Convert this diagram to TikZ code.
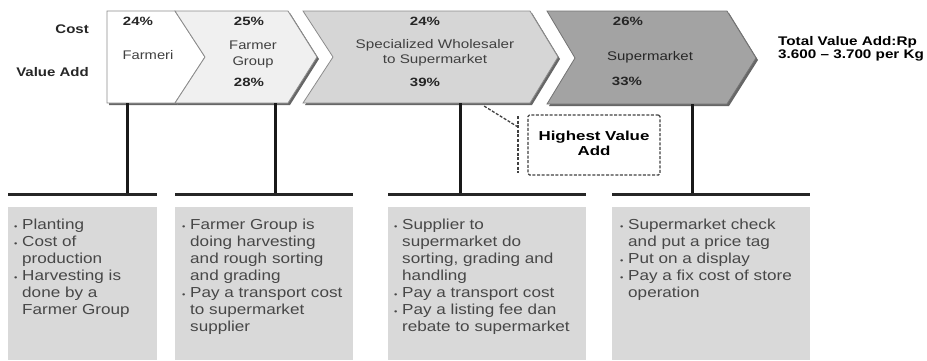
\documentclass[tikz,border=0pt]{standalone}
\usepackage{fontspec}
\usepackage{graphicx}
\setmainfont{Liberation Sans}
\newcommand{\hsc}[2][1.2]{\scalebox{#1}[1]{\begin{tabular}{@{}c@{}}#2\end{tabular}}}
\newcommand{\hsl}[2][1.2]{\scalebox{#1}[1]{\begin{tabular}{@{}l@{}}#2\end{tabular}}}
\begin{document}
\begin{tikzpicture}[x=1pt,y=-1pt,
  chev/.style={draw=black!45, line width=0.8pt, line join=miter},
  shad/.style={fill=black!60},
  pole/.style={line width=3pt, draw=black!90},
  hbar/.style={line width=3pt, draw=black!85},
  info/.style={fill=black!15},
  lbl/.style={font=\fontsize{12.5}{15}\selectfont, text=black!75, inner sep=0pt, align=center},
  pct/.style={font=\bfseries\fontsize{12}{14}\selectfont, text=black!85, inner sep=0pt},
  rowlbl/.style={font=\bfseries\fontsize{12.5}{14}\selectfont, text=black!85, inner sep=0pt, anchor=east},
  bul/.style={anchor=north west, align=left, font=\fontsize{14.5}{17}\selectfont, text=black!72, inner sep=0pt},
  callout/.style={draw=black!75, line width=1.3pt, dash pattern=on 3pt off 1.6pt}
]
\useasboundingbox (0,0) rectangle (927,360);

% shadows
\fill[shad] (109,13) -- (177,13) -- (207,59) -- (177,105) -- (109,105) -- cycle;
\fill[shad] (177,13) -- (290,13) -- (319,59) -- (290,105) -- (177,105) -- (207,59) -- cycle;
\fill[shad] (305,13) -- (532,13) -- (560,59) -- (532,105) -- (305,105) -- (335,59) -- cycle;
\fill[shad] (549,13) -- (729,13) -- (758,60) -- (729,106) -- (549,106) -- (577,60) -- cycle;

% chevrons
\filldraw[chev, fill=white] (107,11) -- (175,11) -- (205,57) -- (175,103) -- (107,103) -- cycle;
\filldraw[chev, fill=black!6] (175,11) -- (288,11) -- (317,57) -- (288,103) -- (175,103) -- (205,57) -- cycle;
\filldraw[chev, fill=black!16] (303,11) -- (530,11) -- (558,57) -- (530,103) -- (303,103) -- (333,57) -- cycle;
\filldraw[chev, draw=black!55, fill=black!36] (547,11) -- (727,11) -- (756,58) -- (727,104) -- (547,104) -- (575,58) -- cycle;

% row labels
\node[rowlbl] (cost) at (89,31) {\hsc[1.2]{Cost}};
\node[rowlbl] (va) at (89,74) {\hsc[1.2]{Value Add}};

% chevron texts
\node[pct] (c1) at (138,23) {\hsc[1.25]{24\%}};
\node[lbl] (n1) at (148,56) {\hsc[1.18]{Farmeri}};
\node[pct] (c2) at (249,23) {\hsc[1.25]{25\%}};
\node[lbl] (n2) at (253,54) {\hsc[1.18]{Farmer\\[1pt]Group}};
\node[pct] (v2) at (249,84) {\hsc[1.25]{28\%}};
\node[pct] (c3) at (425,23) {\hsc[1.25]{24\%}};
\node[lbl] (n3) at (435,53) {\hsc[1.22]{Specialized Wholesaler\\to Supermarket}};
\node[pct] (v3) at (425,84) {\hsc[1.25]{39\%}};
\node[pct] (c4) at (628,23) {\hsc[1.25]{26\%}};
\node[lbl, text=black!85] (n4) at (650,57) {\hsc[1.2]{Supermarket}};
\node[pct] (v4) at (627,83) {\hsc[1.25]{33\%}};

\node[font=\bfseries\fontsize{12.5}{13}\selectfont, anchor=west, inner sep=0pt] (tot) at (778,49) {\hsl[1.22]{Total Value Add:Rp\\3.600 -- 3.700 per Kg}};

% poles and bars
\coordinate (p1t) at (127,103); \coordinate (p1b) at (127,194);
\coordinate (p2t) at (275,103); \coordinate (p2b) at (275,194);
\coordinate (p3t) at (460,103); \coordinate (p3b) at (460,194);
\coordinate (p4t) at (692,104); \coordinate (p4b) at (692,194);
\coordinate (b1l) at (8,194);   \coordinate (b1r) at (157,194);
\coordinate (b2l) at (175,194); \coordinate (b2r) at (353,194);
\coordinate (b3l) at (388,194); \coordinate (b3r) at (586,194);
\coordinate (b4l) at (612,194); \coordinate (b4r) at (810,194);
\draw[pole] (p1t) -- (p1b);
\draw[pole] (p2t) -- (p2b);
\draw[pole] (p3t) -- (p3b);
\draw[pole] (p4t) -- (p4b);
\draw[hbar] (b1l) -- (b1r);
\draw[hbar] (b2l) -- (b2r);
\draw[hbar] (b3l) -- (b3r);
\draw[hbar] (b4l) -- (b4r);

% info boxes
\fill[info] (8,207) rectangle (157,360);
\fill[info] (175,207) rectangle (353,360);
\fill[info] (388,207) rectangle (586,360);
\fill[info] (612,207) rectangle (810,360);

\node[bul] (t1) at (14,217) {\scalebox{1.18}[1]{\begin{tabular}{@{}l@{\hspace{4pt}}l@{}}
\footnotesize\textbullet & Planting\\
\footnotesize\textbullet & Cost of\\
 & production\\
\footnotesize\textbullet & Harvesting is\\
 & done by a\\
 & Farmer Group
\end{tabular}}};
\node[bul] (t2) at (182,217) {\scalebox{1.18}[1]{\begin{tabular}{@{}l@{\hspace{4pt}}l@{}}
\footnotesize\textbullet & Farmer Group is\\
 & doing harvesting\\
 & and rough sorting\\
 & and grading\\
\footnotesize\textbullet & Pay a transport cost\\
 & to supermarket\\
 & supplier
\end{tabular}}};
\node[bul] (t3) at (394,217) {\scalebox{1.18}[1]{\begin{tabular}{@{}l@{\hspace{4pt}}l@{}}
\footnotesize\textbullet & Supplier to\\
 & supermarket do\\
 & sorting, grading and\\
 & handling\\
\footnotesize\textbullet & Pay a transport cost\\
\footnotesize\textbullet & Pay a listing fee dan\\
 & rebate to supermarket
\end{tabular}}};
\node[bul] (t4) at (620,217) {\scalebox{1.18}[1]{\begin{tabular}{@{}l@{\hspace{4pt}}l@{}}
\footnotesize\textbullet & Supermarket check\\
 & and put a price tag\\
\footnotesize\textbullet & Put on a display\\
\footnotesize\textbullet & Pay a fix cost of store\\
 & operation
\end{tabular}}};

% callout
\node[callout, rounded corners=1.5pt, minimum width=132pt, minimum height=60pt,
      font=\bfseries\fontsize{13}{16}\selectfont] (hva) at (594,145) {\hsc[1.3]{Highest Value\\[-1pt]Add}};
\coordinate (acct) at (518,116); \coordinate (accb) at (518,173);
\coordinate (lead) at (518,127); \coordinate (ltip) at (484,106);
\draw[callout] (acct) -- (accb);
\draw[callout] (lead) -- (ltip);
\end{tikzpicture}
\end{document}
